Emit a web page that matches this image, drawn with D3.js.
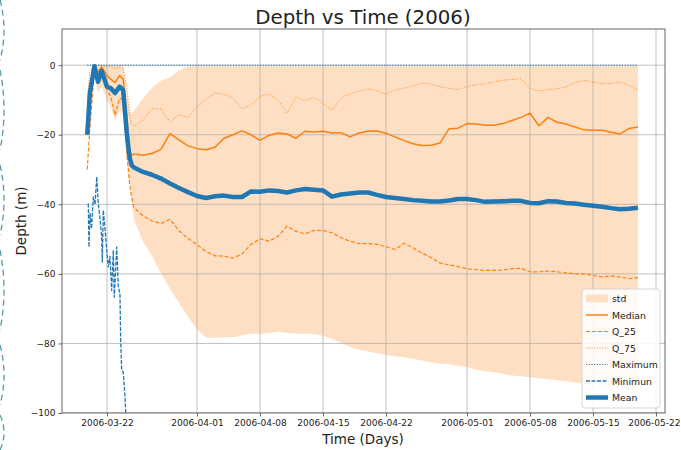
<!DOCTYPE html>
<html>
<head>
<meta charset="utf-8">
<script src="https://cdn.jsdelivr.net/npm/d3@7"></script>
<style>
  body { margin: 0; background: #fff; }
  text { font-family: "DejaVu Sans", sans-serif; fill: #222; }
</style>
</head>
<body>
<div id="chart"></div>
<script>
// Our canvas
const width = 681,
  height = 450,
  plotLeft = 62,
  plotRight = 665,
  plotTop = 29,
  plotBottom = 413

// Data: day offsets from 2006-03-22
const days = [-2.2, -1.9, -1.4, -1.0, -0.6, 0, 0.4, 0.9, 1.4, 1.8, 2.2, 2.5, 2.75,
  3, 4, 5, 6, 7, 8, 9, 10, 11, 12, 13, 14, 15, 16, 17, 18, 19, 20, 21, 22, 23, 24, 25,
  26, 27, 28, 29, 30, 31, 32, 33, 34, 35, 36, 37, 38, 39, 40, 41, 42, 43, 44, 45, 46,
  47, 48, 49, 50, 51, 52, 53, 54, 55, 56, 57, 58, 59]

const meanDepth = [-20, -8, -0.3, -4.8, -1.6, -6.2, -6.6, -8, -6.2, -7.2, -19.6, -26.4, -28.8,
  -29.4, -30.7, -31.5, -32.6, -34.0, -35.3, -36.5, -37.6, -38.2, -37.7, -37.5, -37.9, -37.9,
  -36.3, -36.4, -36.0, -36.2, -36.6, -36.0, -35.6, -35.8, -36.0, -37.8, -37.2, -36.9, -36.6,
  -36.6, -37.3, -37.9, -38.2, -38.5, -38.8, -39.0, -39.2, -39.2, -38.9, -38.5, -38.5, -38.8,
  -39.3, -39.2, -39.1, -39.0, -39.0, -39.6, -39.7, -39.1, -39.2, -39.6, -39.8, -40.1, -40.4,
  -40.7, -41.1, -41.4, -41.3, -41.0]

const medianDepth = [-20, -6, 0, -2, -0.5, -3, -4, -5, -3, -4, -15, -24, -26,
  -25.5, -25.9, -25.4, -24.2, -19.7, -21.5, -23.2, -24, -24.3, -23.6, -21, -20, -18.9,
  -20, -21.6, -20.2, -19.5, -19.8, -21, -19, -19.2, -19, -19.5, -19.4, -20.6, -19.5,
  -19, -18.9, -19.6, -20.6, -21.7, -22.6, -23.1, -23.0, -22.4, -18.3, -18.1, -16.8, -16.9,
  -17.3, -17.3, -16.8, -15.9, -15.0, -13.8, -17.4, -15.0, -16.4, -16.9, -17.8, -18.6, -18.7,
  -18.7, -19.3, -19.8, -18.2, -17.8]

const q25Depth = [-30, -18, -1.5, -4, -2, -7, -9, -14.4, -9.5, -10, -25, -34, -38,
  -41, -43.3, -44.8, -45.5, -44.3, -47.6, -49.8, -51.6, -53.6, -54.8, -54.9, -55.5, -54.3,
  -51.5, -49.9, -50.6, -49.2, -46.3, -47.8, -48.5, -47.5, -47.5, -48.2, -49.6, -50.6, -51.3,
  -51.3, -51.5, -52.2, -53, -51.2, -52.5, -54, -55.3, -56.9, -57.4, -57.9, -58.5, -58.8,
  -59, -59, -58.9, -58.5, -58.4, -59.4, -59.4, -59.2, -59.4, -59.7, -60, -60, -60.4,
  -60.9, -60.6, -60.9, -61.4, -61.1]

const q75Depth = [-10, -2, 0, 0, 0, -0.5, -0.3, -1, -0.5, -1, -6, -14, -17,
  -17.5, -15.8, -12.5, -12.5, -16.4, -14.2, -15, -12, -9.8, -8, -8.4, -9.5, -12.5,
  -11.5, -9, -8.3, -10, -13.8, -9.2, -10.2, -9.2, -11, -13, -9.5, -8.2, -7.5,
  -6.8, -7.4, -8.4, -7.2, -6.6, -6, -5.1, -5.4, -6.2, -6.7, -7, -6.1, -5.7,
  -5.3, -4.8, -4.3, -4.1, -3.9, -6.7, -7.4, -7.0, -6.8, -6.3, -5, -4.4, -4.9,
  -5.3, -5.3, -4.8, -5.8, -7.2]

const stdUpper = [-18, -4, 0, 0, 0, 0, 0, 0, 0, 0, -8, -13, -14,
  -13, -9.5, -6.5, -4.5, -3.5, -1.5, -0.3, 0, 0, 0, 0, 0, 0,
  0, 0, 0, 0, 0, 0, 0, 0, 0, 0, 0, 0, 0,
  0, 0, 0, 0, 0, 0, 0, 0, 0, 0, 0, 0, 0,
  0, 0, 0, 0, 0, 0, 0, 0, 0, 0, 0, 0, 0,
  0, 0, 0, 0, 0]

const stdLower = [-22, -10, -3, -8, -6, -10, -12, -16, -13, -14, -27, -34, -40,
  -44.5, -50.7, -54.8, -59.9, -64.3, -68.3, -72.3, -75.9, -78.3, -78.4, -78.3, -78.2, -77.7,
  -77.2, -77.2, -77, -76.6, -77, -77.2, -77.2, -77.3, -77.8, -78.7, -79.8, -81, -81.8,
  -82.3, -82.8, -83.3, -83.7, -84, -84.4, -84.9, -85.4, -85.8, -85.9, -86.4, -86.8, -87.6,
  -88, -88.3, -88.8, -89.2, -89.4, -89.7, -90, -90.3, -90.6, -90.9, -91.2, -91.6, -92,
  -92.3, -92.6, -92.9, -93.2, -93.5]

const maxDays = [-2.2, 59]
const maxDepth = [0, 0]

const minDays = [-2.08, -2.0, -1.89, -1.72, -1.52, -1.33, -1.14, -0.97, -0.78, -0.59, -0.52,
  -0.41, -0.22, -0.03, 0.14, 0.33, 0.52, 0.70, 0.81, 1.08, 1.26, 1.44, 1.52, 1.63, 1.81,
  2.0, 2.11, 2.22]
const minDepth = [-39.8, -52.3, -42.6, -47, -37.9, -40, -32.1, -39.8, -44, -49.4, -56.6,
  -41.7, -47, -53.2, -58, -55, -64.8, -53.2, -66.7, -52.3, -63.8, -65.7, -79.1, -87.8, -88.3,
  -95.5, -101.2, -105]

const xTickLabels = ['2006-03-22', '2006-04-01', '2006-04-08', '2006-04-15', '2006-04-22',
  '2006-05-01', '2006-05-08', '2006-05-15', '2006-05-22']
const yTicks = [0, -20, -40, -60, -80, -100]
const legendLabels = ['std', 'Median', 'Q_25', 'Q_75', 'Maximum', 'Minimun', 'Mean']

const blue = '#1f77b4', orange = '#ff7f0e', bandColor = '#ffdfc3'

const parse = d3.utcParse('%Y-%m-%d')
const base = parse('2006-03-22')
const toDate = d => new Date(base.getTime() + d * 864e5)

// Drawing area
let svg = d3.select('#chart')
  .append('svg')
  .attr('width', width)
  .attr('height', height)

svg.append('rect').attr('width', width).attr('height', height).attr('fill', '#fff')

const xScale = d3.scaleUtc()
  .domain([parse('2006-03-17'), parse('2006-05-23')])
  .range([plotLeft, plotRight])

const yScale = d3.scaleLinear()
  .domain([-100, 10.4])
  .range([plotBottom, plotTop])

svg.append('clipPath').attr('id', 'plot-clip')
  .append('rect')
  .attr('x', plotLeft).attr('y', plotTop)
  .attr('width', plotRight - plotLeft).attr('height', plotBottom - plotTop)

const plot = svg.append('g').attr('clip-path', 'url(#plot-clip)')

// std band
const area = d3.area()
  .x((d, i) => xScale(toDate(days[i])))
  .y0((d, i) => yScale(stdLower[i]))
  .y1((d, i) => yScale(stdUpper[i]))

plot.append('path')
  .datum(days)
  .attr('d', area)
  .attr('fill', bandColor)

// grid
const xTickDates = xTickLabels.map(parse)
plot.selectAll('.xgrid')
  .data(xTickDates)
  .enter()
  .append('line')
  .attr('x1', d => xScale(d)).attr('x2', d => xScale(d))
  .attr('y1', plotTop).attr('y2', plotBottom)
  .attr('stroke', '#b0b0b0').attr('stroke-width', 0.8)

plot.selectAll('.ygrid')
  .data(yTicks)
  .enter()
  .append('line')
  .attr('x1', plotLeft).attr('x2', plotRight)
  .attr('y1', d => yScale(d)).attr('y2', d => yScale(d))
  .attr('stroke', '#b0b0b0').attr('stroke-width', 0.8)

// series
let drawLine = (xs, ys, color, w, dash, opacity) => {
  const line = d3.line()
    .x((d, i) => xScale(toDate(xs[i])))
    .y((d, i) => yScale(ys[i]))
  plot.append('path')
    .datum(xs)
    .attr('d', line)
    .attr('fill', 'none')
    .attr('stroke', color)
    .attr('stroke-width', w)
    .attr('stroke-dasharray', dash)
    .attr('stroke-linejoin', 'round')
    .attr('opacity', opacity)
}

drawLine(days, medianDepth, orange, 1.5, null, 1)
drawLine(days, q25Depth, orange, 1.2, '4,2', 1)
drawLine(days, q75Depth, orange, 1, '1.2,1.5', 0.8)
drawLine(maxDays, maxDepth, blue, 1, '1.2,1.5', 1)
drawLine(minDays, minDepth, blue, 1.3, '4,1.5', 1)
drawLine(days, meanDepth, blue, 4.5, null, 1)

// axes
const xAxis = d3.axisBottom(xScale)
  .tickValues(xTickDates)
  .tickFormat(d3.utcFormat('%Y-%m-%d'))
  .tickSize(3.5)
  .tickPadding(3)

const yAxis = d3.axisLeft(yScale)
  .tickValues(yTicks)
  .tickFormat(d => d < 0 ? '\u2212' + Math.abs(d) : d)
  .tickSize(3.5)
  .tickPadding(3)

let gx = svg.append('g')
  .attr('transform', `translate(0,${plotBottom})`)
  .call(xAxis)
let gy = svg.append('g')
  .attr('transform', `translate(${plotLeft},0)`)
  .call(yAxis)

for (let g of [gx, gy]) {
  g.select('.domain').remove()
  g.selectAll('.tick line').attr('stroke', '#444').attr('stroke-width', 0.8)
  g.selectAll('.tick text').attr('font-size', 9).attr('fill', '#222')
    .attr('font-family', '"DejaVu Sans", sans-serif')
}
// keep the last date label inside the page
gx.selectAll('.tick text').filter((d, i, n) => i === n.length - 1)
  .attr('text-anchor', 'end').attr('dx', 24)

// frame
svg.append('rect')
  .attr('x', plotLeft).attr('y', plotTop)
  .attr('width', plotRight - plotLeft).attr('height', plotBottom - plotTop)
  .attr('fill', 'none').attr('stroke', '#555').attr('stroke-width', 0.9)

// titles
svg.append('text')
  .attr('x', 363).attr('y', 24)
  .attr('text-anchor', 'middle').attr('font-size', 19.8)
  .text('Depth vs Time (2006)')

svg.append('text')
  .attr('x', 363).attr('y', 444)
  .attr('text-anchor', 'middle').attr('font-size', 13.5)
  .text('Time (Days)')

svg.append('text')
  .attr('transform', `translate(26,${(plotTop + plotBottom) / 2}) rotate(-90)`)
  .attr('text-anchor', 'middle').attr('font-size', 13.5)
  .text('Depth (m)')

// legend
const legend = svg.append('g').attr('transform', 'translate(582,289)')
legend.append('rect')
  .attr('width', 78).attr('height', 119).attr('rx', 3)
  .attr('fill', '#fff').attr('fill-opacity', 0.85)
  .attr('stroke', '#ccc').attr('stroke-width', 0.8)

const legendStyles = [
  { patch: true },
  { color: orange, w: 1.5, dash: null },
  { color: orange, w: 1.2, dash: '4,2' },
  { color: orange, w: 1, dash: '1.2,1.5', op: 0.8 },
  { color: blue, w: 1, dash: '1.2,1.5' },
  { color: blue, w: 1.3, dash: '4,1.5' },
  { color: blue, w: 4.5, dash: null }
]

legend.selectAll('.entry')
  .data(legendLabels)
  .enter()
  .append('g')
  .attr('transform', (d, i) => `translate(0,${9.5 + i * 16.5})`)
  .each(function (d, i) {
    const g = d3.select(this)
    const s = legendStyles[i]
    if (s.patch) {
      g.append('rect').attr('x', 4).attr('y', -4).attr('width', 22).attr('height', 8)
        .attr('fill', bandColor)
    } else {
      g.append('line').attr('x1', 4).attr('x2', 26).attr('y1', 0).attr('y2', 0)
        .attr('stroke', s.color).attr('stroke-width', s.w)
        .attr('stroke-dasharray', s.dash).attr('opacity', s.op || 1)
    }
    g.append('text').attr('x', 30).attr('y', 3.5).attr('font-size', 9.3).text(d)
  })

// page decoration on the left edge
const deco = svg.append('g').attr('fill', 'none').attr('stroke', '#2d8296')
  .attr('stroke-width', 1.3).attr('stroke-dasharray', '6,4').attr('opacity', 0.8)
const arcs = [[0, 60], [70, 150], [165, 235], [250, 330], [345, 405], [415, 450]]
arcs.forEach(([a, b]) => {
  deco.append('path').attr('d', `M0,${a} Q8,${(a + b) / 2} 0,${b}`)
})
</script>
</body>
</html>
